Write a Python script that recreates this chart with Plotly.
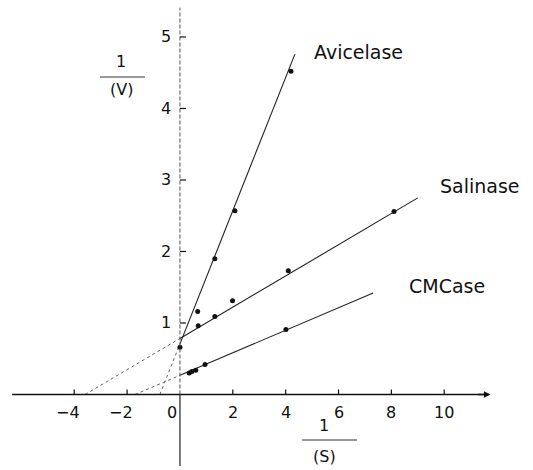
import plotly.graph_objects as go

# ---- data ----
avicelase_x = [0.0, 0.67, 1.32, 2.08, 4.20]
avicelase_y = [0.66, 1.16, 1.90, 2.57, 4.52]
salinase_x = [0.69, 1.32, 1.99, 4.10, 8.10]
salinase_y = [0.96, 1.09, 1.31, 1.73, 2.56]
cmcase_x = [0.35, 0.45, 0.60, 0.95, 4.01]
cmcase_y = [0.30, 0.32, 0.34, 0.42, 0.91]

# fitted lines: x-intercept, y-intercept, end point
avicelase_line = {"xint": -0.76, "yint": 0.708, "xend": 4.35, "yend": 4.76}
salinase_line = {"xint": -3.59, "yint": 0.784, "xend": 9.00, "yend": 2.75}
cmcase_line = {"xint": -1.70, "yint": 0.268, "xend": 7.31, "yend": 1.42}

series_names = ["Avicelase", "Salinase", "CMCase"]
label_pos_x = [4.99, 9.76, 8.59]
label_pos_y = [4.79, 2.92, 1.52]

x_ticks = [-4, -2, 2, 4, 6, 8, 10]
x_tick_labels = ["\u22124", "\u22122", "0", "2", "4", "6", "8", "10"]
x_tick_label_vals = [-4, -2, 0, 2, 4, 6, 8, 10]
y_ticks = [1, 2, 3, 4, 5]
y_tick_labels = ["1", "2", "3", "4", "5"]

X_RANGE = [-6.81, 13.36]
Y_RANGE = [-1.056, 5.517]
W, H = 533, 470
FONT = "DejaVu Sans"

fig = go.Figure()

lines = [avicelase_line, salinase_line, cmcase_line]
pts = [(avicelase_x, avicelase_y), (salinase_x, salinase_y), (cmcase_x, cmcase_y)]

for name, ln, (px, py) in zip(series_names, lines, pts):
    # extrapolated part (dotted)
    fig.add_trace(go.Scatter(x=[ln["xint"], 0], y=[0, ln["yint"]], mode="lines",
                             line=dict(color="#666", width=1, dash="3px,3px"),
                             hoverinfo="skip", showlegend=False))
    # fitted part (solid)
    fig.add_trace(go.Scatter(x=[0, ln["xend"]], y=[ln["yint"], ln["yend"]], mode="lines",
                             line=dict(color="#222", width=1.1),
                             hoverinfo="skip", showlegend=False))
    fig.add_trace(go.Scatter(x=px, y=py, mode="markers", name=name,
                             marker=dict(color="#111", size=5), showlegend=False))

shapes = []
# x axis
shapes.append(dict(type="line", xref="x", yref="y", x0=-6.35, x1=11.6, y0=0, y1=0,
                   line=dict(color="#111", width=1.4)))
# y axis
shapes.append(dict(type="line", xref="x", yref="y", x0=0, x1=0, y0=0, y1=5.41,
                   line=dict(color="#555", width=1, dash="4px,2px")))
shapes.append(dict(type="line", xref="x", yref="y", x0=0, x1=0, y0=-1.0, y1=0,
                   line=dict(color="#222", width=1.2)))
# ticks
for v in x_ticks:
    shapes.append(dict(type="line", xref="x", yref="y", ysizemode="pixel", yanchor=0,
                       x0=v, x1=v, y0=0, y1=5, line=dict(color="#111", width=1.2)))
for v in y_ticks:
    shapes.append(dict(type="line", xref="x", yref="y", xsizemode="pixel", xanchor=0,
                       x0=0, x1=6, y0=v, y1=v, line=dict(color="#111", width=1.2)))


def px2paper(x, y):
    return x / W, 1 - y / H

# fraction bars of axis titles
for (xa, xb, yy) in [(100, 145, 77), (302, 357, 440)]:
    p0 = px2paper(xa, yy)
    p1 = px2paper(xb, yy)
    shapes.append(dict(type="line", xref="paper", yref="paper", x0=p0[0], x1=p1[0],
                       y0=p0[1], y1=p0[1], line=dict(color="#333", width=1)))

annotations = []
# arrow head of x axis
annotations.append(dict(x=11.75, y=0, xref="x", yref="y", ax=-14, ay=0, text="",
                        showarrow=True, arrowhead=2, arrowsize=1, arrowwidth=1.3,
                        arrowcolor="#111"))
for v, t in zip(x_tick_label_vals, x_tick_labels):
    shift = 0
    if v < 0:
        shift = -6
    elif v == 0:
        shift = -8
    annotations.append(dict(x=v, y=0, xref="x", yref="y", text=t, showarrow=False,
                            xshift=shift, yshift=-18,
                            font=dict(family=FONT, size=16, color="#111")))
for v, t in zip(y_ticks, y_tick_labels):
    annotations.append(dict(x=0, y=v, xref="x", yref="y", text=t, showarrow=False,
                            xanchor="right", xshift=-7,
                            font=dict(family=FONT, size=16, color="#111")))
for n, lx, ly in zip(series_names, label_pos_x, label_pos_y):
    annotations.append(dict(x=lx, y=ly, xref="x", yref="y", text=n, showarrow=False,
                            xanchor="left", yanchor="middle",
                            font=dict(family=FONT, size=19, color="#111")))

# axis titles
for (tx, ty, t) in [(121, 62, "1"), (121, 90, "(V)"), (324, 425, "1"), (324, 456, "(S)")]:
    p = px2paper(tx, ty)
    annotations.append(dict(x=p[0], y=p[1], xref="paper", yref="paper", text=t,
                            showarrow=False, xanchor="center", yanchor="middle",
                            font=dict(family=FONT, size=16, color="#111")))

fig.update_layout(
    width=W, height=H,
    margin=dict(l=0, r=0, t=0, b=0),
    paper_bgcolor="white", plot_bgcolor="white",
    xaxis=dict(range=X_RANGE, visible=False, fixedrange=True),
    yaxis=dict(range=Y_RANGE, visible=False, fixedrange=True),
    shapes=shapes, annotations=annotations, showlegend=False,
)

fig.write_html("out.html", config={"displayModeBar": False},
               post_script="document.body.style.margin='0';document.body.style.overflow='hidden';")
